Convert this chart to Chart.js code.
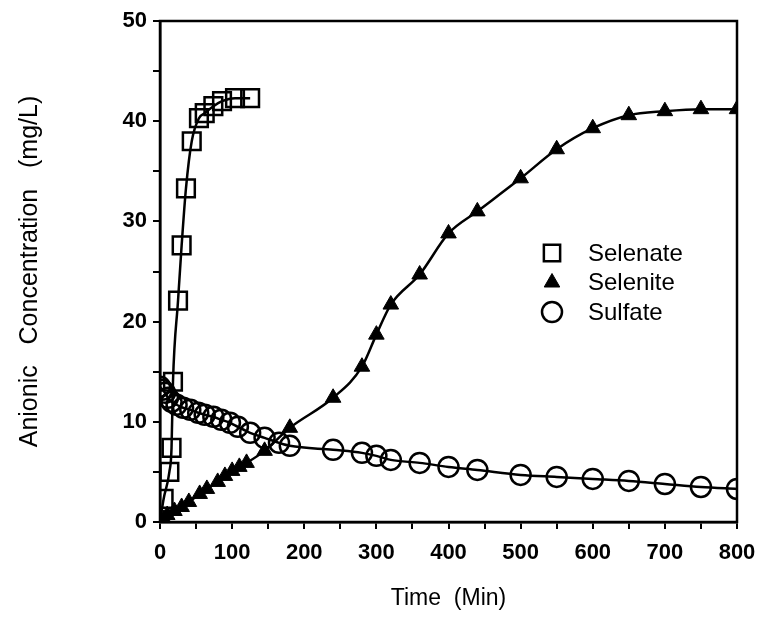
<!DOCTYPE html>
<html>
<head>
<meta charset="utf-8">
<script src="https://cdn.jsdelivr.net/npm/chart.js@4.4.0/dist/chart.umd.min.js"></script>
<style>
  html, body { margin: 0; padding: 0; background: #fff; }
</style>
</head>
<body>
<canvas id="chart" width="759" height="625"></canvas>
<script>
// values
const selenateTime = [0, 5, 13, 16, 18, 25, 30, 36, 44, 54, 62, 74, 86, 104, 125];
const selenateConc = [0, 2.3, 5.0, 7.4, 14.0, 22.1, 27.6, 33.3, 38.0, 40.3, 40.8, 41.5, 42.0, 42.3, 42.3];

const seleniteTime = [0, 5, 10, 20, 30, 40, 55, 65, 80, 90, 100, 110, 120, 145, 180, 240, 280, 300, 320, 360, 400, 440, 500, 550, 600, 650, 700, 750, 800];
const seleniteConc = [0, 0.3, 0.7, 1.1, 1.5, 2.0, 2.8, 3.3, 4.0, 4.6, 5.1, 5.5, 5.9, 7.1, 9.4, 12.4, 15.5, 18.7, 21.7, 24.7, 28.8, 31.0, 34.3, 37.2, 39.3, 40.6, 41.0, 41.2, 41.2];

const sulfateTime = [0, 3, 7, 11, 16, 23, 32, 42, 53, 62, 74, 85, 97, 108, 125, 145, 165, 180, 240, 280, 300, 320, 360, 400, 440, 500, 550, 600, 650, 700, 750, 800];
const sulfateConc = [13.5, 13.2, 12.9, 12.4, 12.0, 11.7, 11.4, 11.2, 10.9, 10.7, 10.5, 10.2, 9.9, 9.5, 8.9, 8.4, 7.9, 7.6, 7.2, 6.9, 6.6, 6.2, 5.9, 5.5, 5.2, 4.7, 4.5, 4.3, 4.1, 3.8, 3.5, 3.3];

const xTicks = [0, 100, 200, 300, 400, 500, 600, 700, 800];
const yTicks = [0, 10, 20, 30, 40, 50];

const FONT = "'Liberation Sans', Arial, Helvetica, sans-serif";

function toPoints(xs, ys) {
    return xs.map((x, i) => ({ x: x, y: ys[i] }));
}

// plot box (top and right sides too)
const frame = {
    id: 'frame',
    afterDatasetsDraw(chart) {
        const a = chart.chartArea;
        const ctx = chart.ctx;
        ctx.save();
        ctx.strokeStyle = '#000';
        ctx.lineWidth = 2.5;
        ctx.strokeRect(a.left, a.top, a.right - a.left, a.bottom - a.top);
        ctx.restore();
    }
};

// legend drawn inside the plot
const insideLegend = {
    id: 'insideLegend',
    afterDraw(chart) {
        const ctx = chart.ctx;
        ctx.save();
        chart.data.datasets.forEach((ds, i) => {
            const y = 253 + i * 29.5;
            ctx.fillStyle = ds.pointBackgroundColor;
            ctx.strokeStyle = '#000';
            ctx.lineWidth = ds.pointBorderWidth;
            Chart.helpers.drawPoint(ctx, {
                pointStyle: ds.pointStyle,
                radius: ds.legendRadius,
                borderWidth: ds.pointBorderWidth,
                rotation: 0
            }, 552, y);
            ctx.fillStyle = '#000';
            ctx.font = '24px ' + FONT;
            ctx.textBaseline = 'middle';
            ctx.textAlign = 'left';
            ctx.fillText(ds.label, 588, y + 1);
        });
        ctx.restore();
    }
};

const ctx = document.getElementById('chart').getContext('2d');
const chart = new Chart(ctx, {
    type: 'line',
    data: {
        datasets: [{
            label: 'Selenate',
            data: toPoints(selenateTime, selenateConc),
            borderColor: '#000',
            borderWidth: 2.5,
            pointStyle: 'rect',
            pointRadius: selenateTime.map((t, i) => i === 0 ? 0 : 12.5),
            legendRadius: 11.5,
            pointBorderWidth: 2.5,
            pointBorderColor: '#000',
            pointBackgroundColor: 'rgba(0,0,0,0)',
            cubicInterpolationMode: 'monotone'
        }, {
            label: 'Selenite',
            data: toPoints(seleniteTime, seleniteConc),
            borderColor: '#000',
            borderWidth: 2.5,
            pointStyle: 'triangle',
            pointRadius: 9,
            legendRadius: 9,
            pointBorderWidth: 1,
            pointBorderColor: '#000',
            pointBackgroundColor: '#000',
            cubicInterpolationMode: 'monotone'
        }, {
            label: 'Sulfate',
            data: toPoints(sulfateTime, sulfateConc),
            borderColor: '#000',
            borderWidth: 2.5,
            pointStyle: 'circle',
            pointRadius: 10,
            legendRadius: 10,
            pointBorderWidth: 2.5,
            pointBorderColor: '#000',
            pointBackgroundColor: 'rgba(0,0,0,0)',
            cubicInterpolationMode: 'monotone'
        }]
    },
    options: {
        responsive: false,
        animation: false,
        layout: { padding: { top: 21, right: 22, left: 0, bottom: 0 } },
        plugins: {
            legend: { display: false },
            tooltip: { enabled: false }
        },
        scales: {
            x: {
                type: 'linear',
                min: 0,
                max: 800,
                // fixed height, and don't let the last label push the plot in
                afterFit: (s) => { s.height = 103; s.paddingRight = 0; s.paddingLeft = 0; },
                border: { display: true, color: '#000', width: 2.5 },
                grid: { drawOnChartArea: false, drawTicks: true, tickLength: 7, color: '#000', lineWidth: 2 },
                ticks: {
                    stepSize: 50,
                    autoSkip: false,
                    maxRotation: 0,
                    padding: 11,
                    color: '#000',
                    font: { family: FONT, size: 22, weight: 'bold' },
                    callback: (v) => xTicks.includes(v) ? String(v) : ''
                },
                title: {
                    display: true,
                    text: 'Time  (Min)',
                    color: '#000',
                    font: { family: FONT, size: 23 },
                    padding: { top: 0, bottom: 13 }
                }
            },
            y: {
                type: 'linear',
                min: 0,
                max: 50,
                afterFit: (s) => { s.width = 160; },
                border: { display: true, color: '#000', width: 2.5 },
                grid: { drawOnChartArea: false, drawTicks: true, tickLength: 7, color: '#000', lineWidth: 2 },
                ticks: {
                    stepSize: 5,
                    autoSkip: false,
                    padding: 6,
                    color: '#000',
                    font: { family: FONT, size: 22, weight: 'bold' },
                    callback: (v) => yTicks.includes(v) ? String(v) : ''
                },
                title: {
                    display: true,
                    text: 'Anionic   Concentration   (mg/L)',
                    color: '#000',
                    font: { family: FONT, size: 25 },
                    padding: { top: 15, bottom: 0 }
                }
            }
        }
    },
    plugins: [frame, insideLegend]
});
</script>
</body>
</html>
